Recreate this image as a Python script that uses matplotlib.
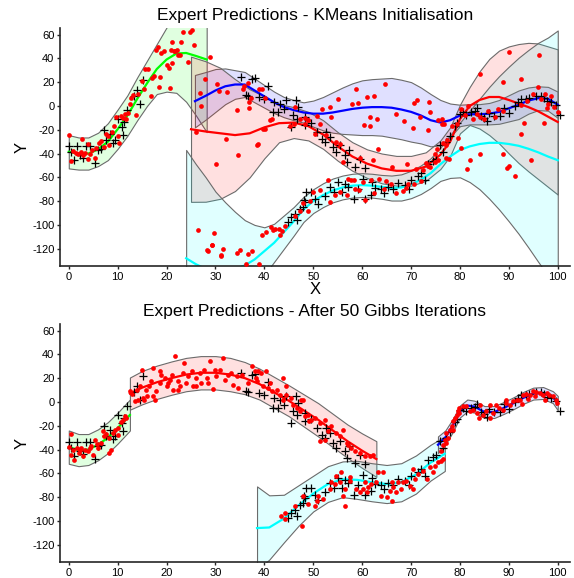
import matplotlib
matplotlib.use('Agg')

import matplotlib.pyplot as plt
import numpy as np

plt.rcParams['font.family'] = ['Liberation Sans', 'DejaVu Sans']
plt.rcParams['axes.unicode_minus'] = False

# ---- observed data (black +), same in both panels
data_x = [0, 1.6, 0.5, 1, 2.9, 5.3, 3.5, 4.4, 6, 7.2, 7.7, 9.1, 9.4, 10, 10.8, 11.3, 11.1, 11.9,
          13.9, 13.4, 14.6, 15.2, 2.3, 6.5, 8.5,
          35.3, 37.4, 38, 40.8, 36.3, 36.7, 39, 40, 41.8, 42.8, 44.4, 43.1, 46.4, 45.9, 46.9, 48.3,
          46.7, 45.5, 48.3, 49.5, 50.7, 52.7, 51.7, 52.3, 53.5, 54.1, 54.7, 55.5, 56.4, 57.4, 56.8,
          58.5, 59.5, 60.5, 42, 44,
          44.8, 45.5, 46.2, 46.6, 47.2, 47.9, 48.2, 48.5, 48.3, 49.6, 50.3, 51, 52.4, 53.5, 55.1,
          55.8, 57.1, 58.4, 59.1, 60.1, 60.5, 61.9, 62.6, 63.9, 65.2, 66.3, 67.3, 68.7, 70, 71.4,
          72.1, 73.4, 74.5, 54.2, 56.5, 64.5, 69.5, 72.8, 75.2, 62,
          75.9, 76.5, 77.2, 77.9, 78.9, 79.3, 80, 80.6, 81.3, 82.3, 83, 84.3, 85, 86, 87, 88.1,
          89.1, 90.1, 91.2, 91.8, 92.5, 93.5, 94.1, 95.5, 96.5, 97.2, 97.9, 98.6, 99.6, 100.5,
          85.5, 83.5]
data_y = [-33.6, -33.6, -38.6, -45.6, -44, -47.6, -33.6, -33.6, -37.3, -20, -28.4, -31.2, -28.9,
          -10.7, -17.7, -13.5, -24.7, -3.8, 13, 8.3, 1.6, 21.5, -41.5, -36, -24,
          24.4, 22.4, 23.5, 16.8, 9, 8.5, 7.6, 6, -5, -5.4, 4.8, 2, 4.8, -7.8, -1, -16,
          -11, -17.6, -9, -14, -21.8, -21.8, -27.4, -30, -26, -34.5, -38.6, -33, -41.4, -37.2, -47,
          -51.2, -45, -52, 3.5, -3,
          -97.5, -93.3, -90.5, -96, -86.3, -85, -79, -72, -80.6, -72, -78, -82.5, -75.5, -68, -63.9,
          -72.3, -68, -78, -69.5, -61, -78, -75, -69, -69.5, -68, -69.5, -65, -66.5, -62, -59,
          -56, -49, -46, -72, -66, -73, -70, -62, -45, -64,
          -33, -38.6, -30.2, -25, -16.8, -14, -7, -5, -8, -5, -4, -8.3, -10, -6, -8.3, -8.3,
          -1.4, -6, 0, 3, 6, 5.5, 7, 8.3, 8.3, 7, 4, 3.4, 0.5, -8,
          -13, -2]

# ---- red samples, KMeans initialisation
kmeans_x = [0, 0.4, 0.9, 1.4, 1.9, 2.4, 2.9, 3.4, 3.9, 4.3, 4.7, 5.3, 5.6, 6.1, 6.5, 2.7, 3.9, 7.3,
            7.6, 8, 8.3, 8.8, 9.3, 9.7, 10, 10.3, 10.7, 11, 11.4, 11.7, 12.2, 12.6, 12.8, 13.2, 13.7,
            14.1, 14.9, 15.3, 15.5, 16.2, 16.8, 17.1, 17.4, 17.8, 18.2, 18.6, 18.9, 19.5, 20, 20.5,
            20.8, 20.9, 21.5, 21.8, 22.3, 22.7, 23, 23.4, 24.7, 25.3, 25.6, 21.2, 22.1, 24.4, 21.1,
            18.5,
            28.8, 27.8, 26.9, 30.3, 30.8, 32.3, 27.1, 35.9, 35.6, 36.6, 36.9, 37.3, 36.8, 38.9, 39.6,
            40.1, 34.5, 41.6, 26.1, 32.2, 38.6, 34.6, 30.2, 40.1, 45.3, 46, 48.3, 49,
            26.4, 29.8, 29.2, 28.5, 31.6, 31.2, 37.4, 36.7, 38.9, 39.6, 40.3, 41.3, 41.7, 42.2, 42.9,
            43.6, 43.2, 44.3, 46.2, 47.2, 47.9, 28.3, 29.3, 31.1, 34.3, 35, 36.3,
            64.6, 58.7, 61, 62.4, 55.1, 57.9, 59.1, 51.7, 53.4, 53.7, 61.5, 63, 60.3, 61.5, 68.6, 67,
            70.4, 70.5, 71.2, 73.7, 73.4, 71.8, 75.5, 76.8,
            41.1, 46.2, 47.3, 48.3, 49, 51.4, 50.7, 50.4, 52.7, 54.7, 55.4, 63.3, 62.3, 59.5, 56.1,
            66.2, 69.1, 71.1, 73.9, 74.9, 75.6, 77.2, 38.4, 39.7,
            51.3, 53, 53.4, 54.4, 57.1, 57.8, 55.5, 58.6, 59.3, 56.8, 60.5, 62.5, 63.5, 64.9, 65.9,
            66.9, 68.3, 69, 69.3, 64.5, 61.9, 60.1, 58.4, 49.3, 50, 48.9, 70.7, 72.1, 72.5, 73.5,
            90, 96.1, 84, 88.8, 92.4, 95.9, 97.4, 98.7, 100, 99.2, 93.8, 92.4, 88.7, 87.8, 87.1,
            85.7, 85, 84, 83.4, 82.7, 81.7, 81, 80.3, 79.3, 78.4, 77.4, 76.5, 75.4, 74.8, 73.1,
            77.1, 77.8, 79.6, 80.3, 84, 82, 81.4, 89.7, 90, 91.2, 88.9, 94.6, 93, 92.4, 97.2,
            97.9, 76.4, 76.3, 73.8, 96.5, 95, 98]
kmeans_y = [-24.6, -46.1, -37.8, -39.2, -40.6, -38.6, -41.4, -39.2, -44.2, -40.6, -36.9, -43.4,
            -35, -30.8, -29.4, -28, -32.2, -34.1, -23.8, -25.2, -33, -21.8, -16.8, -9, -25.2,
            -30.8, -8.4, -9.8, -7, -11.2, -6.2, 1.3, 6.9, 8.9, -7.9, 9.7, 20.9, 13.9, 31.2, 30.7,
            8.3, 23.7, 25.1, 47.4, 49.7, 24.5, 44.6, 46, 34, 32.1, 15.3, 47.4, 46, 46, 43.2, 43.2,
            53.6, 61.7, 62.3, 64, 51.4, 53.6, 46.6, 36.6, 36.4, 15.6,
            41.5, 22.6, 10.9, 18.7, 12.3, 11.4, -0.3, 16.8, 14, 19.5, 3.6, 7, -1.7, 14, 14, 7,
            -3.6, -10.6, -22.3, -27.4, -32.4, -41.4, -48.4, -19.6, -17, -15.5, -9.8, -12,
            -104.5, -106.4, -116.5, -122, -120.4, -126, -122, -124.7, -132.8, -108.7, -106,
            -101.8, -104.5, -103.6, -103.6, -105.3, -108.7, -100.9, -92.5, -88.3, -81.3, -121,
            -116.5, -125.6, -124, -121.2, -133,
            18.2, 14.6, 7.6, 8.5, 5.6, 2, 2.6, -3, -0.8, -9.7, -9.2, -10.6, -16.2, -17, -12.8,
            -6.4, -18.2, 2.5, 4.7, 3.4, -20.4, -9.7, -12, -15,
            -12, -0.8, -10.6, -14.8, -12, -14.8, -8.3, -23.2, -24.6, -30.2, -31.6, -36.6, -45.5,
            -44, -46.9, -51.2, -48.4, -52.6, -51.2, -47, -45.6, -33, -33, -19.3,
            -70.8, -62.4, -80.6, -75, -61, -62.4, -72, -69.5, -71, -75, -79, -73, -61.6, -63, -66,
            -73, -71.6, -69, -66, -69.5, -62.4, -63.8, -62.4, -79.6, -72.5, -88, -66, -63.3,
            -53.5, -50.5,
            44.9, 43.2, 27.2, 20.2, 23, 15.6, 10, 8.5, -5, -1, 4, 0.5, -4.4, -3, -9.5,
            -4.4, -11.2, -9.5, -6.4, -11.2, 0, -8, -3, -15, -16.8, -28.4, -31, -36.4, -40.6,
            -47.7, -44, -45, -27.1, -35.6, -40.5, -45.5, -53, -51.8, -50.5, -59, -40.6, -45.5,
            -14.6, -23.6, -14.6, -2, -10.6, -15, -4.8, 6, 10, 2]

# ---- red samples, after 50 Gibbs iterations
gibbs_x = [0.55, 0.07, 0.9, 0.55, 1, 1.7, 2.25, 2.6, 3.3, 4, 4.3, 4.6, 5.7, 6, 6.5, 6.9, 7.7,
           8.2, 8.7, 8.2, 9.1, 9.4, 10.1, 10.6, 11.1, 11.5, 11.8, 10.1, 7.2, 5.3, 2.1, 2.9, 5,
           12.6, 13, 13.5, 14, 14.5, 14.2, 15.2, 14.9, 15.7, 16.5, 16.9, 17.6, 17.9, 18.6, 18.9,
           19.6, 20.3, 20.7, 21.3, 21.2, 22.4, 22.7, 23.4, 23.9, 24.4, 25.1, 25.4, 26.1, 26.8,
           27.1, 27.6, 28.2, 28.8, 29.5, 29.9, 30.2, 30.9, 31.6, 31.9, 32.6, 33.1, 33.6, 34.3,
           34.6, 35.5, 36.7, 37.4, 38.2, 38.7, 21.7, 23.5, 17.2, 18.6, 15.3, 16, 17.2, 20, 22.4,
           26.1, 28.5,
           38, 39.4, 40.3, 38.4, 39.7, 40.8, 41.5, 42.5, 43.1, 43.8, 44.5, 45.5, 45.9, 46.6, 47.2,
           47.5, 48.3, 48.9, 49.6, 50.3, 51.3, 52.3, 53, 52.3, 51.3, 53.7, 54.7, 55.4, 56.1, 57.1,
           57.8, 58.5, 59.5, 60.5, 61.5, 62.2, 56.8, 49.1, 47.9, 41.1, 44.5, 43.8,
           43.5, 44.2, 46.2, 47.6, 47.9, 49, 50.3, 50.7, 51, 52, 53.4, 54.4, 55.4, 56.4, 55.7,
           57.5, 56.4, 57.5, 58.8, 59.5, 60.2, 60.5, 61.2, 60.9, 61.9, 62.9, 63.3, 64.3, 63.9,
           65, 66, 65.6, 66.3, 67, 68, 67.3, 68.4, 69, 69.7, 70.4, 70.8, 71.5, 72.5, 73.2,
           73.9, 74.4, 74.9, 75.6, 76.2, 76.6, 70.4, 66, 54.7, 53.7, 56.1, 44.3,
           76.2, 76.5, 76.9, 77.6, 77.2, 77.9, 78.3, 78.6, 78.9, 79.3, 79.6, 79.9, 80.6, 81.3,
           82, 82.7, 83.4, 83.9, 84.7, 85.4, 86.1, 86.7, 87.4, 88, 88.8, 89.5, 90.2, 90.9, 91.6,
           92.2, 92.9, 93.6, 94.3, 95, 95.6, 96.3, 97, 97.7, 98.3, 99, 99.6, 99.9, 86.1, 84,
           92.6, 94, 95.3, 97.4, 89.5, 79.9, 78.6, 77.2]
gibbs_y = [-27.3, -38, -40, -44.3, -48.5, -38.7, -40.7, -38.7, -40.7, -41.5, -38.7, -37.3, -35,
           -38.7, -34.5, -24.7, -26.7, -43, -40, -30.3, -26, -23.3, -21.9, -17.1, -14.9, -12.1,
           -13.5, -27.6, -29, -31.8, -43, -45.8, -44.4,
           8.9, 6.9, 0.5, 10.3, 13.1, 1.9, 3.3, 27.1, 10.3, 13.1, 17.3, 1.9, 8.9, 15.9, 22.9,
           20.1, 15.9, 18.7, 10.3, 22.9, 17.3, 13.1, 24.3, 15.9, 21.5, 25.7, 13.1, 20.1, 24.3,
           15.9, 27.1, 20.1, 34.1, 10.9, 27.1, 21.5, 27.1, 36.9, 18.7, 22.9, 24.3, 14.5, 21.5,
           11.7, 22.9, 15.9, 29.9, 20.1, 25.7, 38.3, 32.7, 28.5, 25.7, 1.9, 4.7, 4.7, 13.1, 10.3,
           13.1, 15.9,
           25.8, 24.4, 25.8, 17.2, 13, 11.6, 8.9, 10.3, 6.2, 1.9, 6.2, 3.4, -2.2, -5, -7.8,
           1.9, -12, -10.6, -14.8, -13.4, -17.6, -14.8, -24.6, -31.6, -33, -20.4, -26, -28.8,
           -23.2, -35.8, -38.6, -41.4, -42.8, -45.6, -45.6, -44.2, -34.4, -16.2, 1.9, 15.8, 13,
           20,
           -95.5, -98.3, -87.1, -104, -78.7, -85.7, -87.1, -82.9, -78.7, -81.5, -73.1, -68.9,
           -67.5, -87.1, -59.1, -66.1, -73.1, -63.3, -73.1, -75.9, -73.1, -67.5, -71.7, -75.9,
           -68.9, -67.5, -59.1, -59.1, -78.7, -80.1, -82.9, -74.5, -71.7, -75.9, -73.1, -67.5,
           -67.5, -66.1, -70.3, -73.1, -64.7, -60.5, -57.7, -64.7, -54.9, -59.1, -53.5, -50.7,
           -49.3, -47.9, -56.3, -67.5, -61.9, -67.5, -78.7, -93.4,
           -41.5, -35.9, -31.7, -30.3, -26.1, -23.2, -20.4, -16.2, -13.4, -10.6, -7.8, -5, -3.6,
           -3.6, -7.8, -6.4, -9.2, -13.4, -10.6, -7.8, -13.4, -9.2, -2.2, -5, -6.4, -0.8, -3,
           0.6, 2, 2, 6.2, 7, 6.2, 9, 8.2, 7.6, 6.2, 7.6, 6.2, 4.8, 2, -0.8, -2.2, -2.2, -1.4,
           2.5, 5.3, 1.4, 2, -9.2, -23.2, -34.5]

# ---- expert predictions: knots, mean and 2-sigma half width
# KMeans initialisation
g1_x = [0, 2, 4, 6, 8, 10, 12, 14, 16, 18, 20, 22, 24, 26, 28.2]
g1_m = [-38.5, -40, -40, -36.5, -30, -19.5, -8, 6, 19, 31, 39, 44, 44.5, 42, 39]
g1_s = [14, 13.5, 13.5, 14, 15.5, 16.5, 17, 18, 19, 21, 27, 33, 41, 50, 61]

b1_x = [25.8, 28, 30, 32, 34, 36, 38, 40, 42, 44, 46, 48, 50, 52, 54, 56, 58, 60, 62, 64, 66,
        68, 70, 72, 74, 76, 78, 80, 82, 84, 86, 88, 90, 92, 94, 96, 98, 100]
b1_m = [4, 8.5, 13, 16.5, 18, 18, 13, 8, 3, -1, -3.5, -5.5, -6.5, -6.5, -5.5, -4, -2.5, -1.5,
        -1, -1, -1.5, -3, -5, -8, -12, -14, -12, -8, -7, -7, -6.5, -5, -2, 1, 4.5, 6.5, 6, 1]
b1_s = [22, 20, 18, 15, 12, 10.5, 10, 9.5, 9, 8.5, 8.5, 8.5, 11, 14, 17, 19.5, 21.5, 23, 23.5,
        24, 25, 25, 25, 23.5, 22, 19, 14, 9, 8.5, 8.5, 9, 10, 11, 12, 11, 10, 10, 11]

r1_x = [25, 28, 31, 34, 37, 40, 43, 46, 49, 52, 55, 58, 61, 64, 67, 70, 73, 76, 78, 80, 82, 84,
        86, 88, 90, 92, 94, 96, 98, 100]
r1_m = [-19.6, -21.5, -23, -24.5, -23, -18, -14.5, -14, -17, -24, -34, -42.5, -48.5, -52.5,
        -54.5, -54.5, -51, -41, -30, -11, 0, 5, 7.5, 7.5, 5, 2, -1, -4.5, -9, -13.5]
r1_s = [61, 59, 55, 47, 37, 26, 16, 13, 12, 12, 12, 12, 12, 12.5, 12.5, 12.5, 12, 12, 12, 12,
        16, 24, 32, 39, 45, 50, 54, 57, 59, 61]

c1_x = [24, 26, 28, 30, 32, 34, 36, 38, 40, 42, 44, 46, 48, 50, 52, 54, 56, 58, 60, 62, 64, 66,
        68, 70, 72, 74, 76, 78, 80, 82, 84, 86, 88, 90, 92, 94, 96, 98, 100]
c1_m = [-128, -133, -137, -139, -139, -137, -134, -129, -122, -115, -106, -97, -87, -80, -75,
        -71, -68.5, -67, -66.5, -67, -68, -69, -68.5, -66, -62, -56.5, -49, -42.5, -37, -34,
        -32, -31, -31, -32, -33.5, -36, -39, -42.5, -45.6]
c1_s = [91, 84, 77, 67, 58, 48, 38, 29, 20, 16, 14, 12, 10.5, 10, 10, 10, 10, 10, 10, 10, 10,
        10.5, 11, 11.5, 12, 12.5, 14, 18, 23, 30, 38, 47, 56, 65, 74, 83, 92, 100, 109]

# after 50 Gibbs iterations
g2_x = [0, 2, 4, 6, 8, 10, 12.5]
g2_m = [-38, -40.5, -40, -36, -30, -22, -11]
g2_s = [14, 13.5, 13, 13, 13, 13, 13]

r2_x = [12.5, 15, 18, 21, 24, 27, 30, 33, 36, 39, 42, 45, 48, 51, 54, 57, 60, 62.9]
r2_m = [7, 12, 16.5, 20, 23, 24.5, 24.5, 23, 20, 15, 8, 1, -7, -15, -24, -33, -41, -48]
r2_s = [13.5, 14, 14, 14, 14, 14, 14, 14, 13.5, 13, 13, 13, 13.5, 14, 14, 14, 14.5, 15]

c2_x = [38.5, 41, 44, 47, 50, 53, 56, 59, 62, 65, 68, 71, 74, 76.9]
c2_m = [-106, -105.5, -98, -87, -77, -69, -65, -65.5, -67.5, -69, -67.5, -61, -51, -43.5]
c2_s = [35, 27, 20, 17, 15, 15, 15, 16, 16, 16, 16, 16, 15, 14.5]

b2_x = [75.5, 77, 78.5, 80, 81.5, 83, 85, 87, 89, 91, 93, 95, 97, 99, 100]
b2_m = [-36, -30, -20, -8, -3, -4, -8.5, -8.5, -5, -1, 3.5, 7, 7.5, 4, -1]
b2_s = [7, 6, 5.5, 5, 5, 5, 5, 5, 5, 5, 5, 5, 5, 5, 6]

GREEN, BLUE, RED, CYAN = (0, 1, 0), (0, 0, 1), (1, 0, 0), (0, 1, 1)

top_experts = [(g1_x, g1_m, g1_s, GREEN), (b1_x, b1_m, b1_s, BLUE),
               (r1_x, r1_m, r1_s, RED), (c1_x, c1_m, c1_s, CYAN)]
bot_experts = [(g2_x, g2_m, g2_s, GREEN), (r2_x, r2_m, r2_s, RED),
               (c2_x, c2_m, c2_s, CYAN), (b2_x, b2_m, b2_s, BLUE)]


def draw_panel(ax, experts, samples_x, samples_y, title):
    for x, m, s, col in experts:
        m = np.array(m)
        s = np.array(s)
        ax.fill_between(x, m - s, m + s, facecolor=col + (0.12,),
                        edgecolor=(0.42, 0.42, 0.42), linewidth=0.8, zorder=1)
    for x, m, s, col in experts:
        ax.plot(x, m, color=col, linewidth=1.6, zorder=2)
    ax.plot(data_x, data_y, '+', color='k', markersize=6, markeredgewidth=0.9, zorder=3)
    ax.plot(samples_x, samples_y, 'o', color='r', markersize=3.4, markeredgewidth=0, zorder=4)

    ax.set_xlim(-1.8, 102.5)
    ax.set_ylim(-134.5, 65.5)
    ax.set_xticks(range(0, 101, 10))
    ax.set_yticks(range(-120, 61, 20))
    ax.spines['top'].set_visible(False)
    ax.spines['right'].set_visible(False)
    ax.spines['left'].set_color('0.15')
    ax.spines['bottom'].set_color('0.15')
    ax.spines['left'].set_linewidth(1.2)
    ax.spines['bottom'].set_linewidth(1.2)
    ax.tick_params(labelsize=8, length=2.5, width=1, color='0.15', pad=1.5)
    ax.set_title(title, fontsize=12.5, pad=6)
    ax.set_ylabel("Y", fontsize=12, labelpad=2)


fig = plt.figure(figsize=(5.74, 5.78), dpi=100)
ax1 = fig.add_axes([0.1045, 0.5398, 0.8885, 0.4118])
ax2 = fig.add_axes([0.1045, 0.0277, 0.8885, 0.4118])

draw_panel(ax1, top_experts, kmeans_x, kmeans_y, "Expert Predictions - KMeans Initialisation")
ax1.set_xlabel("X", fontsize=12, labelpad=0)
draw_panel(ax2, bot_experts, gibbs_x, gibbs_y, "Expert Predictions - After 50 Gibbs Iterations")

fig.savefig("out.png", dpi=100)
